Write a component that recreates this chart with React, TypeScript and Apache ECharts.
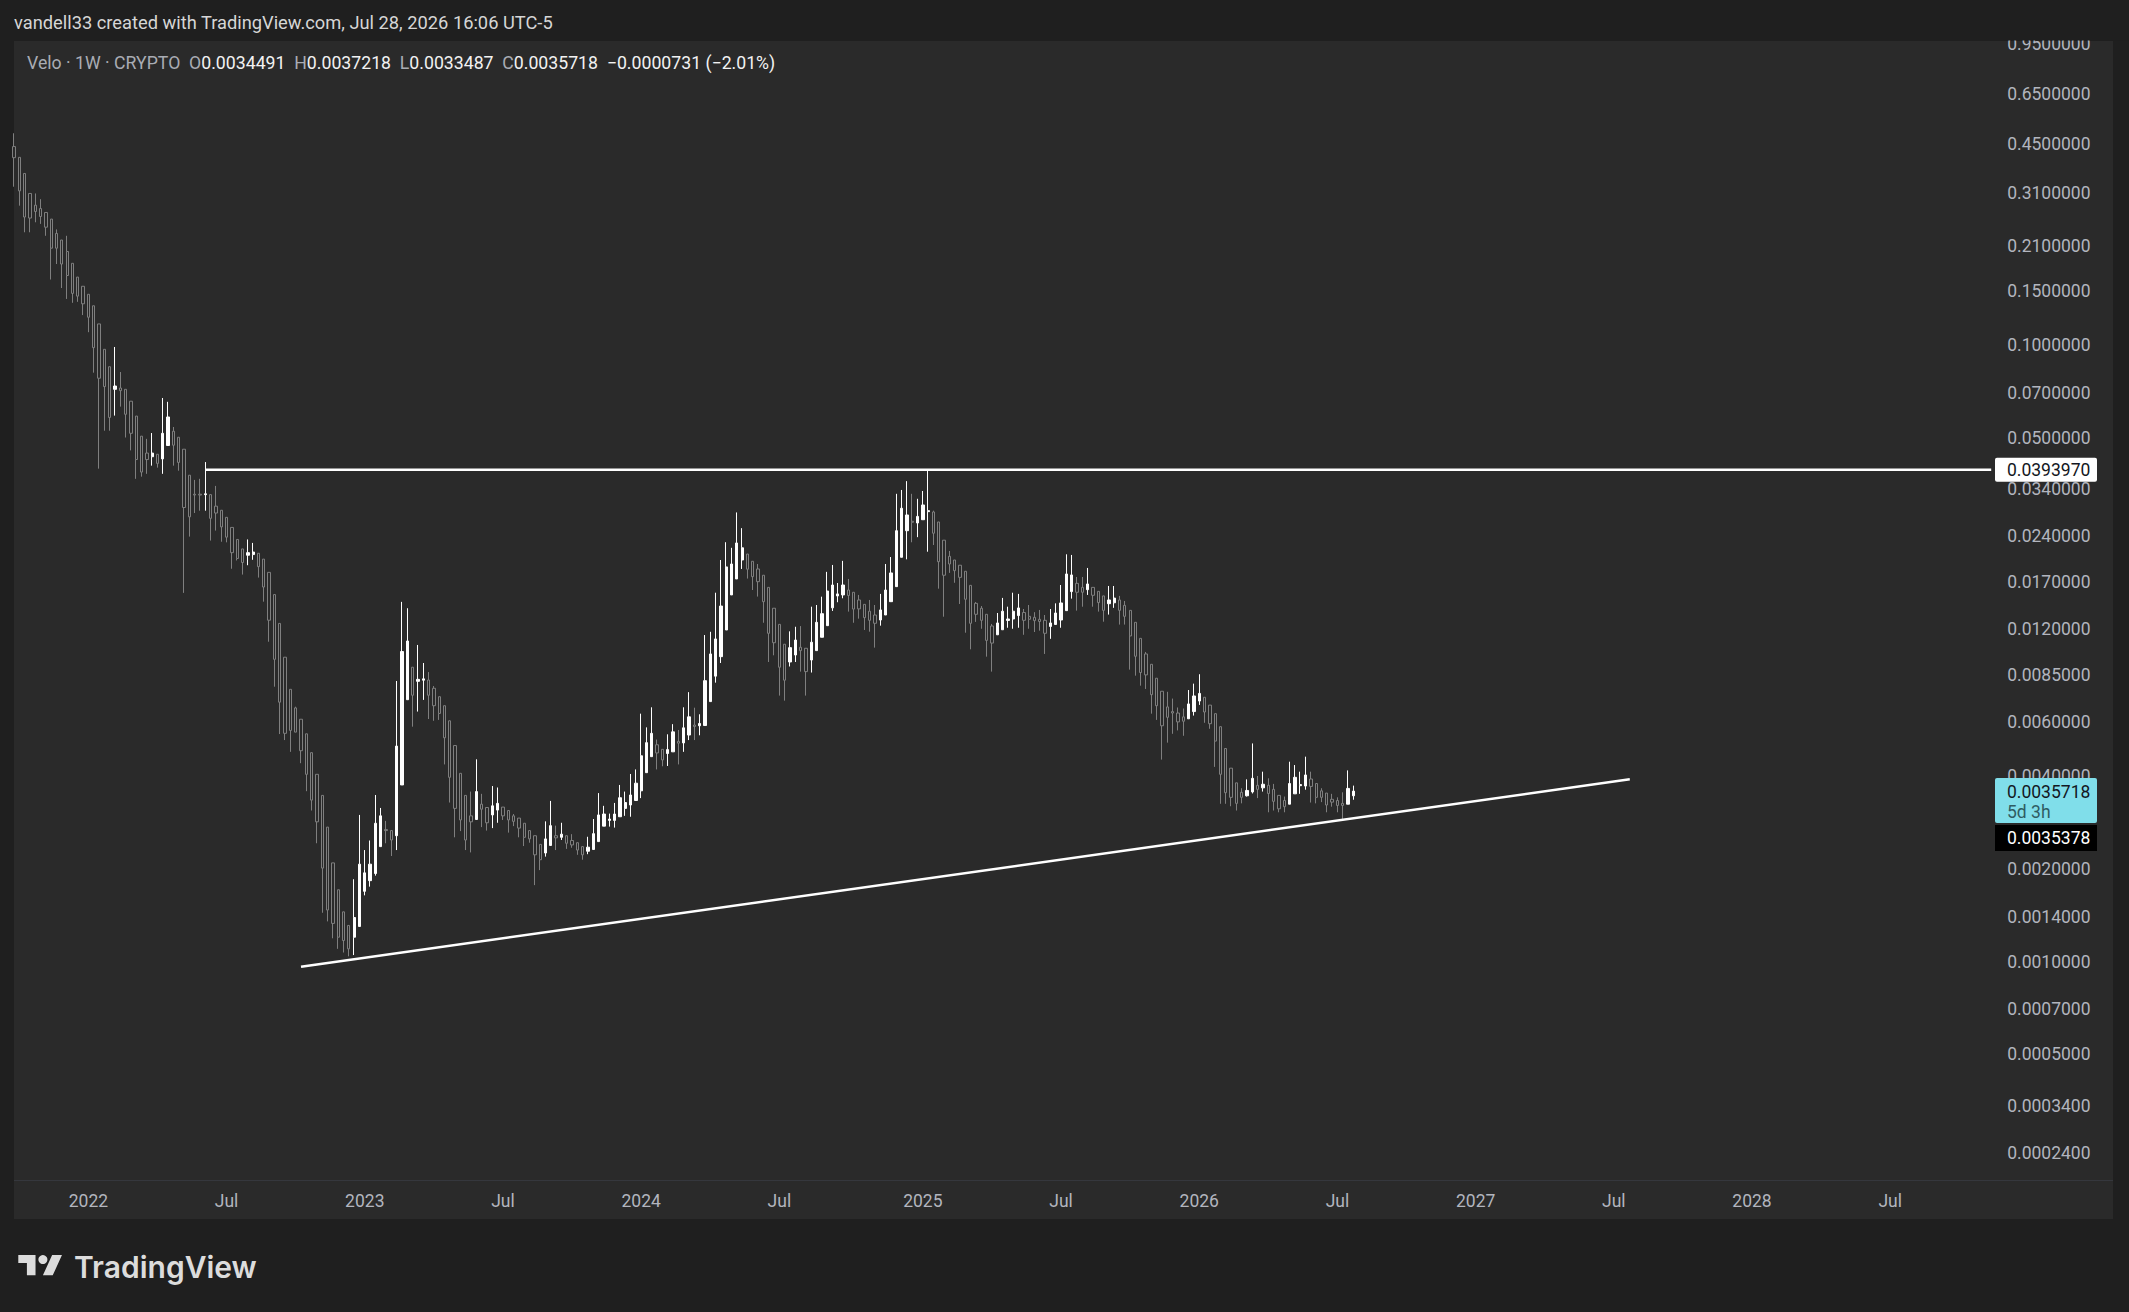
import React, { useEffect, useRef } from "react";
import * as echarts from "echarts";

const PAGE_W = 2129;
const PAGE_H = 1312;

// weekly bars, first visible bar starts Mon 2021-09-27
const FIRST_WEEK_UTC = Date.UTC(2021, 8, 27);
const WEEK_SLOTS = 373; // time scale runs on to Nov 2028

const opens = [
  0.44, 0.406, 0.36, 0.31, 0.284, 0.277, 0.269, 0.256, 0.23, 0.219,
  0.201, 0.184, 0.166, 0.155, 0.146, 0.134, 0.117, 0.0968, 0.085, 0.0718,
  0.0725, 0.0718, 0.0657, 0.0588, 0.0506, 0.0446, 0.0434, 0.0442, 0.0427, 0.0472,
  0.0525, 0.0502, 0.0459, 0.0378, 0.0328, 0.0328, 0.0327, 0.0327, 0.03, 0.0291,
  0.0276, 0.0256, 0.0234, 0.0218, 0.0208, 0.0209, 0.0211, 0.0202, 0.0183, 0.0155,
  0.0125, 0.00971, 0.00764, 0.00665, 0.00611, 0.00548, 0.00476, 0.00405, 0.00346, 0.00273,
  0.00209, 0.00171, 0.00145, 0.00131, 0.0012, 0.0013, 0.00169, 0.00183, 0.00193, 0.00236,
  0.00268, 0.00266, 0.00256, 0.00374, 0.00707, 0.00901, 0.00811, 0.00818, 0.00819, 0.0077,
  0.00723, 0.00676, 0.00604, 0.00502, 0.00408, 0.00346, 0.00297, 0.00289, 0.00324, 0.00316,
  0.00299, 0.0031, 0.00317, 0.00309, 0.00297, 0.00292, 0.00281, 0.00266, 0.00256, 0.0024,
  0.00225, 0.00238, 0.00256, 0.00253, 0.00256, 0.00247, 0.00243, 0.00236, 0.00228, 0.00231,
  0.00245, 0.00275, 0.00287, 0.00287, 0.00295, 0.00314, 0.00322, 0.00333, 0.00358, 0.0041,
  0.00462, 0.00505, 0.00488, 0.00473, 0.00479, 0.00518, 0.00512, 0.00543, 0.00585, 0.00582,
  0.00583, 0.00697, 0.00843, 0.00975, 0.0119, 0.01546, 0.01742, 0.02007, 0.02098, 0.01988,
  0.01877, 0.01791, 0.01636, 0.014, 0.01241, 0.0107, 0.00937, 0.00987, 0.01046, 0.01038,
  0.00951, 0.0102, 0.01127, 0.01229, 0.01404, 0.01534, 0.01546, 0.01604, 0.01577, 0.01489,
  0.01441, 0.01369, 0.01331, 0.01282, 0.01331, 0.0147, 0.01645, 0.02048, 0.02498, 0.0268,
  0.02646, 0.02711, 0.0288, 0.02873, 0.02666, 0.02327, 0.02063, 0.02007, 0.0193, 0.01845,
  0.01661, 0.01452, 0.014, 0.01338, 0.01226, 0.01148, 0.01192, 0.01278, 0.01292, 0.01325,
  0.01356, 0.01318, 0.01308, 0.01289, 0.01279, 0.01222, 0.0124, 0.01282, 0.01375, 0.01585,
  0.01686, 0.01636, 0.01608, 0.01636, 0.01588, 0.01535, 0.01448, 0.01458, 0.01489, 0.0143,
  0.01378, 0.0126, 0.01118, 0.00995, 0.00921, 0.0083, 0.00753, 0.0067, 0.00647, 0.0064,
  0.00622, 0.00613, 0.00647, 0.007, 0.0072, 0.00679, 0.00637, 0.00578, 0.00491, 0.00424,
  0.0038, 0.00354, 0.00345, 0.00355, 0.00373, 0.00366, 0.00373, 0.00362, 0.00346, 0.00333,
  0.00324, 0.0035, 0.00372, 0.00371, 0.00391, 0.00378, 0.00358, 0.00352, 0.00336, 0.00333,
  0.00326, 0.00324, 0.0034491,
];

const highs = [
  0.486, 0.406, 0.36, 0.31, 0.31, 0.297, 0.269, 0.256, 0.237, 0.219,
  0.226, 0.184, 0.166, 0.155, 0.146, 0.134, 0.117, 0.0968, 0.085, 0.0985,
  0.0817, 0.0718, 0.0657, 0.0588, 0.0506, 0.0496, 0.0518, 0.0442, 0.0673, 0.0654,
  0.0542, 0.0502, 0.0459, 0.0378, 0.0365, 0.0368, 0.0417, 0.0327, 0.0349, 0.0291,
  0.0276, 0.0256, 0.0234, 0.0218, 0.0234, 0.0228, 0.0211, 0.0202, 0.0183, 0.0155,
  0.0125, 0.00971, 0.00764, 0.00671, 0.00611, 0.00548, 0.00476, 0.00405, 0.00346, 0.00273,
  0.00209, 0.00171, 0.00145, 0.00131, 0.00185, 0.00299, 0.0023, 0.00247, 0.00347, 0.00315,
  0.00286, 0.00266, 0.00813, 0.01468, 0.014, 0.00901, 0.01064, 0.0093, 0.00869, 0.00783,
  0.00723, 0.00676, 0.00604, 0.00502, 0.00408, 0.00346, 0.00356, 0.00453, 0.0035, 0.00316,
  0.00371, 0.00367, 0.00317, 0.00309, 0.00301, 0.00292, 0.00281, 0.00266, 0.00256, 0.0024,
  0.00285, 0.00332, 0.00276, 0.00282, 0.00256, 0.00259, 0.00243, 0.00236, 0.00254, 0.0029,
  0.00352, 0.0032, 0.00302, 0.00327, 0.00374, 0.00356, 0.00406, 0.0042, 0.00637, 0.00575,
  0.00668, 0.00525, 0.00488, 0.00546, 0.00589, 0.00564, 0.00668, 0.00748, 0.00666, 0.00634,
  0.01146, 0.01174, 0.01572, 0.02007, 0.02292, 0.02198, 0.02863, 0.02546, 0.02098, 0.01988,
  0.01948, 0.01791, 0.01636, 0.014, 0.01241, 0.0107, 0.01178, 0.01219, 0.01225, 0.01038,
  0.01416, 0.01434, 0.01526, 0.01837, 0.01934, 0.0169, 0.01994, 0.01742, 0.01577, 0.01546,
  0.01441, 0.01489, 0.01434, 0.01558, 0.01948, 0.02052, 0.0329, 0.03386, 0.03617, 0.0329,
  0.0317, 0.0336, 0.0392, 0.02901, 0.02666, 0.02327, 0.02147, 0.02007, 0.0193, 0.01845,
  0.01661, 0.01467, 0.01423, 0.01338, 0.01245, 0.01351, 0.01512, 0.01416, 0.01572, 0.01558,
  0.01392, 0.01434, 0.01359, 0.01382, 0.01331, 0.01392, 0.01452, 0.01665, 0.02094, 0.02084,
  0.01768, 0.01768, 0.01891, 0.01636, 0.01588, 0.01535, 0.01653, 0.01653, 0.01535, 0.01478,
  0.01378, 0.0126, 0.01118, 0.0101, 0.00921, 0.0083, 0.00753, 0.0075, 0.00713, 0.00667,
  0.00662, 0.0076, 0.00797, 0.00855, 0.0072, 0.00679, 0.00637, 0.00578, 0.00491, 0.00424,
  0.0038, 0.00365, 0.0039, 0.0051, 0.004, 0.00413, 0.00393, 0.00377, 0.00346, 0.00343,
  0.00445, 0.00434, 0.00413, 0.00462, 0.00413, 0.00378, 0.00365, 0.00352, 0.0035, 0.00341,
  0.00354, 0.00417, 0.0037218,
];

const lows = [
  0.326, 0.283, 0.232, 0.232, 0.25, 0.247, 0.226, 0.163, 0.183, 0.153,
  0.141, 0.137, 0.138, 0.125, 0.11, 0.0813, 0.0397, 0.0527, 0.0527, 0.059,
  0.0631, 0.0501, 0.0455, 0.0368, 0.0374, 0.0382, 0.0406, 0.04, 0.0382, 0.0472,
  0.0406, 0.0391, 0.0157, 0.0239, 0.0285, 0.029, 0.029, 0.0232, 0.025, 0.023,
  0.0229, 0.0188, 0.02, 0.018, 0.0193, 0.0201, 0.0176, 0.0147, 0.0109, 0.00779,
  0.00547, 0.00523, 0.00479, 0.00555, 0.0044, 0.00357, 0.00309, 0.00242, 0.00144, 0.00135,
  0.00119, 0.0011, 0.00107, 0.00104, 0.00105, 0.0013, 0.00164, 0.00175, 0.0019, 0.00236,
  0.00242, 0.0022, 0.0023, 0.00374, 0.00707, 0.00578, 0.00647, 0.00706, 0.00612, 0.00604,
  0.00608, 0.00436, 0.00328, 0.00253, 0.00265, 0.0023, 0.00226, 0.00289, 0.00273, 0.00266,
  0.00271, 0.00282, 0.00288, 0.00262, 0.00275, 0.00253, 0.00237, 0.00243, 0.00177, 0.00198,
  0.00219, 0.00238, 0.0023, 0.00248, 0.00232, 0.00234, 0.00222, 0.00214, 0.00223, 0.00231,
  0.00245, 0.00275, 0.00274, 0.00272, 0.00295, 0.00297, 0.00295, 0.00333, 0.00339, 0.0041,
  0.00462, 0.0042, 0.0043, 0.00431, 0.00479, 0.00436, 0.00479, 0.00523, 0.00523, 0.00542,
  0.00583, 0.00697, 0.00803, 0.0093, 0.0119, 0.01546, 0.01742, 0.01877, 0.01747, 0.01604,
  0.01527, 0.01256, 0.00937, 0.00985, 0.00729, 0.00702, 0.00906, 0.00937, 0.00872, 0.00729,
  0.00866, 0.0102, 0.01127, 0.01229, 0.01372, 0.01464, 0.01508, 0.01365, 0.01256, 0.01295,
  0.0119, 0.01175, 0.01043, 0.01229, 0.01331, 0.0147, 0.01645, 0.02048, 0.02017, 0.02291,
  0.0238, 0.02711, 0.02135, 0.02245, 0.0162, 0.01314, 0.01823, 0.01693, 0.01445, 0.01166,
  0.0103, 0.01264, 0.01201, 0.00975, 0.00872, 0.01148, 0.01192, 0.0121, 0.01201, 0.0121,
  0.01148, 0.01201, 0.01172, 0.01184, 0.00995, 0.01114, 0.0124, 0.0121, 0.01375, 0.01504,
  0.01375, 0.01416, 0.01546, 0.01416, 0.01365, 0.01266, 0.01335, 0.01404, 0.01239, 0.01239,
  0.00885, 0.00846, 0.00785, 0.00766, 0.00637, 0.00608, 0.00452, 0.00513, 0.00548, 0.00562,
  0.0054, 0.00613, 0.00628, 0.0068, 0.00595, 0.00569, 0.00428, 0.00325, 0.00325, 0.00319,
  0.00309, 0.00326, 0.00343, 0.00351, 0.00339, 0.00356, 0.00305, 0.00309, 0.00305, 0.00305,
  0.00324, 0.0035, 0.0035, 0.00361, 0.00328, 0.00326, 0.00329, 0.00305, 0.00318, 0.00305,
  0.00288, 0.00324, 0.0033487,
];

const closes = [
  0.405, 0.316, 0.26, 0.258, 0.271, 0.261, 0.241, 0.206, 0.206, 0.183,
  0.168, 0.147, 0.144, 0.136, 0.123, 0.098, 0.078, 0.0733, 0.0582, 0.0736,
  0.0711, 0.0596, 0.0517, 0.0425, 0.0387, 0.0425, 0.0446, 0.0413, 0.0517, 0.0584,
  0.0473, 0.0416, 0.0297, 0.0277, 0.0326, 0.0326, 0.0329, 0.0274, 0.0285, 0.0257,
  0.0238, 0.0212, 0.0203, 0.0197, 0.0212, 0.0213, 0.0191, 0.0164, 0.0128, 0.00956,
  0.00694, 0.0055, 0.00562, 0.00555, 0.00483, 0.00405, 0.00334, 0.00284, 0.00201, 0.00147,
  0.00133, 0.0012, 0.00117, 0.0011, 0.00139, 0.00207, 0.00194, 0.00207, 0.00281, 0.00297,
  0.00266, 0.00248, 0.005, 0.01013, 0.01096, 0.00731, 0.00823, 0.00826, 0.00731, 0.00676,
  0.00638, 0.00532, 0.00396, 0.00314, 0.00288, 0.00248, 0.00284, 0.00356, 0.00312, 0.00282,
  0.0032, 0.00326, 0.00297, 0.00288, 0.00285, 0.00271, 0.00253, 0.0025, 0.00222, 0.00214,
  0.0025, 0.00276, 0.00252, 0.00259, 0.00242, 0.00239, 0.0023, 0.00222, 0.00235, 0.0026,
  0.00299, 0.00301, 0.0029, 0.00301, 0.0034, 0.00328, 0.00347, 0.00379, 0.00465, 0.00513,
  0.0055, 0.00475, 0.00451, 0.00487, 0.00556, 0.00511, 0.00573, 0.00622, 0.00579, 0.00592,
  0.00815, 0.00995, 0.01113, 0.01423, 0.01906, 0.01948, 0.02279, 0.02198, 0.01874, 0.01772,
  0.01707, 0.0147, 0.01161, 0.01082, 0.00901, 0.00818, 0.01043, 0.01104, 0.0102, 0.00872,
  0.01086, 0.0126, 0.01344, 0.01592, 0.01665, 0.01558, 0.01665, 0.0154, 0.01391, 0.01393,
  0.01305, 0.01279, 0.01251, 0.01382, 0.01604, 0.01822, 0.02498, 0.02954, 0.02809, 0.0266,
  0.02779, 0.03027, 0.02901, 0.02451, 0.01982, 0.01791, 0.01948, 0.01853, 0.01763, 0.01497,
  0.01251, 0.01338, 0.01279, 0.01101, 0.01079, 0.01254, 0.01369, 0.01292, 0.01369, 0.01403,
  0.01279, 0.01289, 0.01276, 0.01268, 0.01161, 0.01254, 0.01351, 0.01456, 0.01808, 0.01795,
  0.01577, 0.01577, 0.01678, 0.01542, 0.0146, 0.01378, 0.01489, 0.0151, 0.01378, 0.01318,
  0.01138, 0.00978, 0.00866, 0.00851, 0.00734, 0.00676, 0.00582, 0.0062, 0.0064, 0.00599,
  0.00602, 0.00685, 0.00727, 0.00741, 0.00645, 0.00591, 0.00519, 0.00405, 0.00353, 0.00341,
  0.00326, 0.00341, 0.00359, 0.00393, 0.00362, 0.00376, 0.00351, 0.00331, 0.00313, 0.00318,
  0.00378, 0.00396, 0.00375, 0.00403, 0.0037, 0.00341, 0.00341, 0.00322, 0.00329, 0.00321,
  0.00321, 0.003645, 0.0035718,
];

const priceTicks = [
  0.95, 0.65, 0.45, 0.31, 0.21, 0.15, 0.1, 0.07, 0.05, 0.034, 0.024, 0.017,
  0.012, 0.0085, 0.006, 0.004, 0.002, 0.0014, 0.001, 0.0007, 0.0005, 0.00034, 0.00024,
];
const priceMin = 0.0001957;
const priceMax = 0.968;

const timeLabelMonths = { "01": "year", "07": "Jul" } as Record<string, string>;

const resistanceLevel = 0.039397;
const resistanceFromWeek = 36;
const trendStart = [54, 0.000962];
const trendEnd = [304, 0.0039];
const lastClose = 0.0035718;
const trendValueText = "0.0035378";
const countdownText = "5d 3h";

const headerText = "vandell33 created with TradingView.com, Jul 28, 2026 16:06 UTC-5";
const symbolText = "Velo · 1W · CRYPTO";
const ohlcText = [
  ["O", "0.0034491"],
  ["H", "0.0037218"],
  ["L", "0.0033487"],
  ["C", "0.0035718"],
];
const changeText = "−0.0000731 (−2.01%)";

const TV_LOGO_D = "M14 22H7V11H0V4h14v18zM28 22h-8l7.5-18h8L28 22z";
let shapesRegistered = false;
function registerShapes() {
  if (shapesRegistered) return;
  echarts.graphic.registerShape("tvlogo", echarts.graphic.extendPath(TV_LOGO_D, {}) as any);
  shapesRegistered = true;
}

function buildWeeks(): string[] {
  const out: string[] = [];
  for (let i = 0; i < WEEK_SLOTS; i++) {
    const d = new Date(FIRST_WEEK_UTC + i * 7 * 86400000);
    out.push(d.toISOString().slice(0, 10));
  }
  return out;
}

const FONT = "Roboto, 'Noto Sans', sans-serif";
const AXIS_GREY = "#b2b5be";
const OUTER_BG = "#1f1f1f";

export default function App() {
  const ref = useRef<HTMLDivElement>(null);

  useEffect(() => {
    registerShapes();
    const el = ref.current!;
    const chart = echarts.init(el, null, { renderer: "svg", width: PAGE_W, height: PAGE_H });
    const weeks = buildWeeks();
    const candles = opens.map((o, i) => [o, closes[i], lows[i], highs[i]]);

    const isLabelWeek = (idx: number) => {
      if (idx === 0) return false;
      const m = weeks[idx].slice(5, 7);
      return m !== weeks[idx - 1].slice(5, 7) && timeLabelMonths[m] !== undefined;
    };

    chart.setOption({
      animation: false,
      backgroundColor: "transparent",
      grid: {
        left: 14,
        top: 41,
        right: 137.8,
        bottom: 132,
        containLabel: false,
        outerBoundsMode: "none",
      },
      xAxis: {
        type: "category",
        data: weeks,
        boundaryGap: false,
        axisLine: { show: false },
        axisTick: { show: false },
        splitLine: { show: false },
        axisLabel: {
          interval: (idx: number) => isLabelWeek(idx),
          formatter: (v: string) => {
            const m = v.slice(5, 7);
            return m === "01" ? v.slice(0, 4) : timeLabelMonths[m];
          },
          color: AXIS_GREY,
          fontSize: 17.5,
          fontFamily: FONT,
          margin: 12,
        },
      },
      yAxis: {
        type: "log",
        logBase: 10,
        min: priceMin,
        max: priceMax,
        position: "right",
        axisLine: { show: false },
        axisTick: { show: false },
        splitLine: { show: false },
        axisLabel: {
          customValues: priceTicks,
          formatter: (v: number) => Number(v).toFixed(7),
          color: AXIS_GREY,
          fontSize: 17.5,
          fontFamily: FONT,
          margin: 16,
        },
      },
      series: [
        {
          type: "candlestick",
          data: candles,
          barWidth: 2.8,
          clip: true,
          silent: true,
          itemStyle: {
            color: "#ffffff",
            color0: "#2a2a2a",
            borderColor: "#ffffff",
            borderColor0: "#7f7f7f",
            borderWidth: 1,
          },
          markLine: {
            silent: true,
            symbol: ["none", "none"],
            label: { show: false },
            lineStyle: { color: "#62b6c0", type: [1, 3], width: 1 },
            data: [{ yAxis: lastClose }],
          },
          z: 3,
        },
        {
          type: "line",
          silent: true,
          symbol: "none",
          data: [
            [resistanceFromWeek, resistanceLevel],
            [WEEK_SLOTS - 1, resistanceLevel],
          ],
          lineStyle: { color: "#ffffff", width: 2.5 },
          z: 5,
        },
        {
          type: "line",
          silent: true,
          symbol: "none",
          data: [trendStart, trendEnd],
          lineStyle: { color: "#ffffff", width: 2.5 },
          z: 5,
        },
      ],
    });

    const yAt = (v: number) => chart.convertToPixel({ yAxisIndex: 0 }, v) as unknown as number;
    const yRes = yAt(resistanceLevel);
    const yLast = yAt(lastClose);

    const txt = (text: string, x: number, y: number, fill: string, extra: any = {}) => ({
      type: "text",
      z: 40,
      silent: true,
      style: {
        text,
        x,
        y,
        fill,
        fontSize: 17.5,
        fontFamily: FONT,
        align: "left",
        verticalAlign: "middle",
        textAlign: "left",
        textVerticalAlign: "middle",
        ...extra,
      },
    });

    const richLine =
      "{g|" + symbolText + "}  " +
      ohlcText.map(([k, v]) => "{g|" + k + "}{v|" + v + "}").join("  ") +
      "  {v|" + changeText + "}";

    const logoSX = 1.23;
    const logoSY = 1.13;
    const logoX = 18.3;
    const logoY = 1250.5;

    chart.setOption({
      graphic: [
        {
          type: "rect",
          z: -10,
          silent: true,
          shape: { x: 14, y: 41, width: 2099, height: 1178 },
          style: { fill: "#2a2a2a" },
        },
        {
          type: "line",
          z: -5,
          silent: true,
          shape: { x1: 14, y1: 1180.5, x2: 2113, y2: 1180.5 },
          style: { stroke: "#35373d", lineWidth: 1 },
        },
        {
          // the price scale is cut off at the panel's top edge
          type: "rect",
          z: 30,
          silent: true,
          shape: { x: 1990, y: 0, width: 139, height: 40.5 },
          style: { fill: OUTER_BG },
        },
        txt(headerText, 14, 22, "#d6d6d6", { fontSize: 18.3 }),
        {
          type: "text",
          z: 40,
          silent: true,
          style: {
            text: richLine,
            x: 27,
            y: 63,
            fontSize: 17.7,
            fontFamily: FONT,
            verticalAlign: "middle",
            textVerticalAlign: "middle",
            rich: {
              g: { fill: "#a9acb4", fontSize: 17.7, fontFamily: FONT },
              v: { fill: "#f2f2f2", fontSize: 17.7, fontFamily: FONT },
            },
          },
        },
        {
          type: "tvlogo",
          z: 40,
          silent: true,
          x: logoX,
          y: logoY,
          scaleX: logoSX,
          scaleY: logoSY,
          style: { fill: "#dcdcdc" },
        },
        {
          type: "circle",
          z: 40,
          silent: true,
          shape: { cx: logoX + 20 * logoSX, cy: logoY + 8 * logoSY, r: 4.5 },
          style: { fill: "#dcdcdc" },
        },
        txt("TradingView", 74, 1267, "#dcdcdc", {
          fontSize: 30,
          fontWeight: 600,
          fontFamily: "Inter, Roboto, sans-serif",
        }),
        {
          type: "rect",
          z: 35,
          silent: true,
          shape: { x: 1995, y: yRes - 12, width: 102, height: 24, r: 2 },
          style: { fill: "#ffffff" },
        },
        txt(resistanceLevel.toFixed(7), 2007, yRes, "#131722"),
        {
          type: "rect",
          z: 35,
          silent: true,
          shape: { x: 1995, y: yLast - 13, width: 102, height: 45, r: 2 },
          style: { fill: "#80deea" },
        },
        txt(lastClose.toFixed(7), 2007, yLast + 1, "#131722"),
        txt(countdownText, 2007, yLast + 21, "#2f5c62"),
        {
          type: "rect",
          z: 35,
          silent: true,
          shape: { x: 1995, y: yLast + 34, width: 102, height: 26 },
          style: { fill: "#000000" },
        },
        txt(trendValueText, 2007, yLast + 47, "#ffffff"),
      ],
    });

    return () => {
      chart.dispose();
    };
  }, []);

  return (
    <div
      ref={ref}
      style={{
        position: "fixed",
        left: 0,
        top: 0,
        width: PAGE_W,
        height: PAGE_H,
        background: OUTER_BG,
      }}
    />
  );
}
